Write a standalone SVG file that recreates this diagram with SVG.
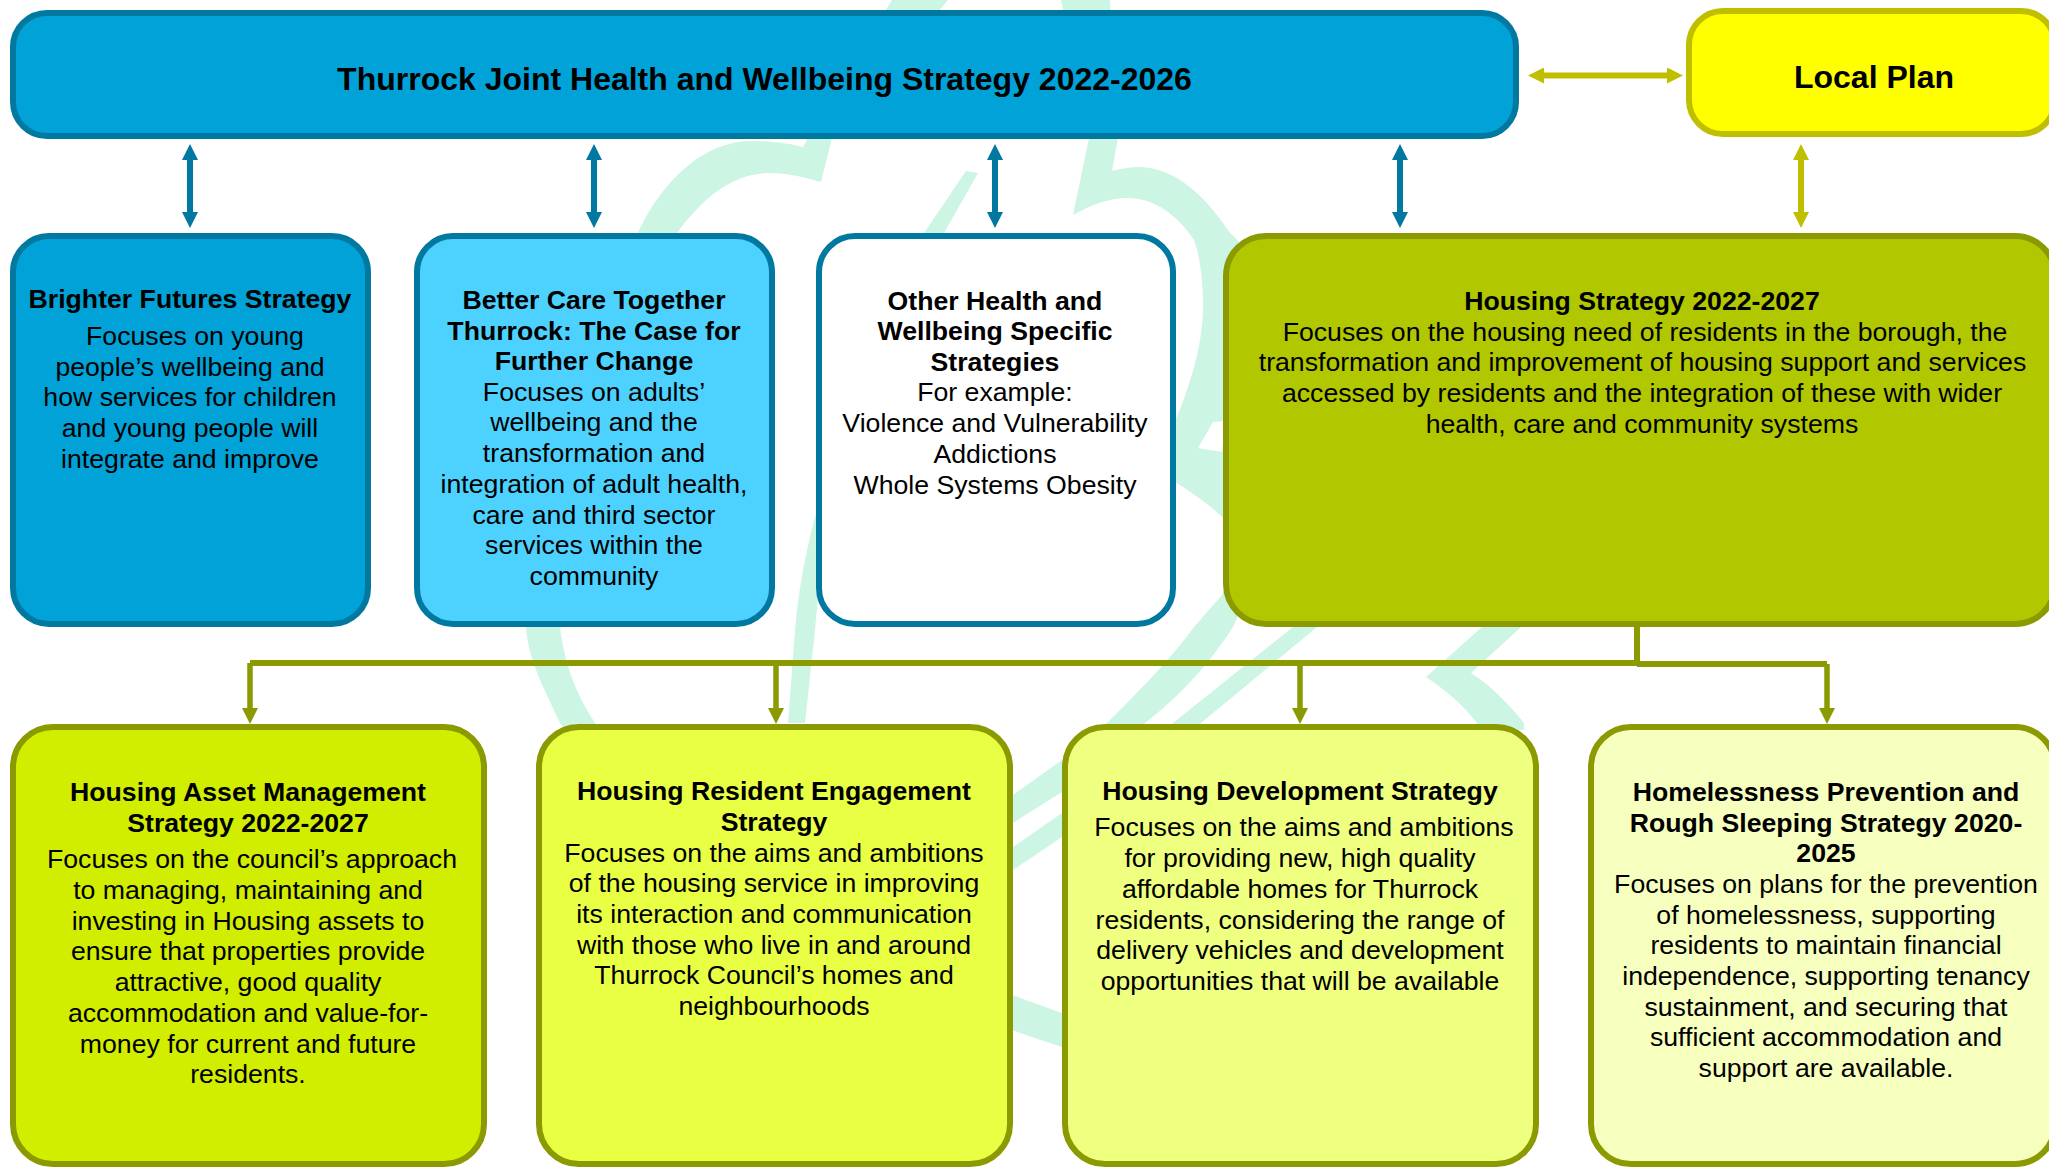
<svg xmlns="http://www.w3.org/2000/svg" width="2049" height="1168" viewBox="0 0 2049 1168">
<style>
.box{stroke-width:6}
.blue{stroke:#00789f}
.olive{stroke:#8a9a00}
text{font-family:"Liberation Sans",Arial,sans-serif;font-size:26.67px;fill:#000;text-anchor:middle}
.h{font-weight:bold}
.t{font-weight:bold;font-size:32px}
.wm{fill:#ccf5e3;fill-rule:evenodd}
.ab{stroke:#00789f;stroke-width:6;fill:none}
.ay{stroke:#bfbf00;stroke-width:6;fill:none}
.ao{stroke:#8a9a00;stroke-width:5.5;fill:none}
.tr{stroke:#8a9a00;stroke-width:6;fill:none}
</style>
<defs>
<marker id="mb" markerUnits="userSpaceOnUse" markerWidth="16" markerHeight="16" viewBox="0 0 16 16" refX="4" refY="8" orient="auto-start-reverse"><path d="M0 0L16 8L0 16Z" fill="#00789f"/></marker>
<marker id="my" markerUnits="userSpaceOnUse" markerWidth="16" markerHeight="16" viewBox="0 0 16 16" refX="4" refY="8" orient="auto-start-reverse"><path d="M0 0L16 8L0 16Z" fill="#bfbf00"/></marker>
<marker id="mo" markerUnits="userSpaceOnUse" markerWidth="16" markerHeight="16" viewBox="0 0 16 16" refX="4" refY="8" orient="auto"><path d="M0 0L16 8L0 16Z" fill="#8a9a00"/></marker>
</defs>
<g id="watermark">
<path class="wm" d="M892 0L948 0L832 138L821 182C800 176 785 173 770 173C735 173 705 195 677 233C620 330 555 450 560 627C565 670 580 700 595 723C700 880 880 990 1062 1047L1100 1060L1100 1030L1062 1013C880 950 640 830 560 723C545 690 528 660 526 627C520 450 590 320 638 233C655 195 695 141 752 141C770 141 790 143 803 147L808 138Z"/>
<path class="wm" d="M1061 0L1110 0L1118 138L1112 171C1120 169 1130 167 1140 167C1175 168 1205 195 1230 233L1300 300L1290 560L1222 517C1210 505 1195 495 1177 483L1160 475L1160 440L1177 417C1190 385 1205 340 1203 297C1202 270 1198 250 1194 240C1182 222 1160 198 1127 198C1110 198 1090 205 1073 215L1089 138ZM1213 422L1198 448L1222 452L1225 421Z"/>
<path class="wm" d="M1260 500L1290 500L1233 627C1205 670 1175 700 1145 723L1062 792L1013 823L980 845L970 815L1013 795L1062 760L1107 723C1140 690 1170 660 1194 627L1222 595Z"/>
<path class="wm" d="M1350 570L1375 570L1317 627L1201 723L1062 837L1013 870L985 890L975 865L1013 847L1062 813L1173 723L1293 627Z"/>
<path class="wm" d="M1500 600L1540 600L1521 627L1471 673C1490 685 1510 705 1524 723L1524 730L1482 730C1465 705 1445 690 1426 677L1482 627Z"/>
<path class="wm" d="M966 171L978 173L944 233C880 370 825 500 815 630L805 723L788 723L795 630C800 570 815 510 830 470L924 233Z"/>
</g>
<g id="connectors">
<path class="ab" d="M190 156V216" marker-start="url(#mb)" marker-end="url(#mb)"/>
<path class="ab" d="M594 156V216" marker-start="url(#mb)" marker-end="url(#mb)"/>
<path class="ab" d="M995 156V216" marker-start="url(#mb)" marker-end="url(#mb)"/>
<path class="ab" d="M1400 156V216" marker-start="url(#mb)" marker-end="url(#mb)"/>
<path class="ay" d="M1801 156V216" marker-start="url(#my)" marker-end="url(#my)"/>
<path class="ay" d="M1540 75.5H1671" marker-start="url(#my)" marker-end="url(#my)"/>
<path class="tr" d="M1637 626V663H250"/>
<path class="tr" d="M1637 664H1827"/>
<path class="ao" d="M250 663V712" marker-end="url(#mo)"/>
<path class="ao" d="M776 663V712" marker-end="url(#mo)"/>
<path class="ao" d="M1300 663V712" marker-end="url(#mo)"/>
<path class="ao" d="M1827 664V712" marker-end="url(#mo)"/>
</g>
<g id="top-strategy"><rect class="box blue" x="13" y="13" width="1503" height="123" rx="34" fill="#00a2d8"/>
<text class="t" x="764.5" y="90">Thurrock Joint Health and Wellbeing Strategy 2022-2026</text></g>
<g id="local-plan"><rect class="box" stroke="#bfbf00" x="1689" y="11" width="366" height="123" rx="34" fill="#ffff00"/>
<text class="t" x="1874" y="88">Local Plan</text></g>
<g id="brighter-futures"><rect class="box blue" x="13" y="236" width="355" height="388" rx="36" fill="#00a2d8"/>
<text class="h" x="190" y="308">Brighter Futures Strategy</text>
<text x="195" y="345">Focuses on young</text><text x="190" y="376">people’s wellbeing and</text><text x="190" y="406">how services for children</text><text x="190" y="437">and young people will</text><text x="190" y="468">integrate and improve</text></g>
<g id="better-care"><rect class="box blue" x="417" y="236" width="355" height="388" rx="36" fill="#4dd2ff"/>
<text class="h" x="594" y="309">Better Care Together</text><text class="h" x="594" y="340">Thurrock: The Case for</text><text class="h" x="594" y="370">Further Change</text>
<text x="594" y="401">Focuses on adults’</text><text x="594" y="431">wellbeing and the</text><text x="594" y="462">transformation and</text><text x="594" y="493">integration of adult health,</text><text x="594" y="524">care and third sector</text><text x="594" y="554">services within the</text><text x="594" y="585">community</text></g>
<g id="other-strategies"><rect class="box blue" x="819" y="236" width="354" height="388" rx="36" fill="#fff"/>
<text class="h" x="995" y="310">Other Health and</text><text class="h" x="995" y="340">Wellbeing Specific</text><text class="h" x="995" y="371">Strategies</text>
<text x="995" y="401">For example:</text><text x="995" y="432">Violence and Vulnerability</text><text x="995" y="463">Addictions</text><text x="995" y="494">Whole Systems Obesity</text></g>
<g id="housing-strategy"><rect class="box olive" x="1226" y="236" width="829" height="388" rx="40" fill="#b1c800"/>
<text class="h" x="1642" y="310">Housing Strategy 2022-2027</text>
<text x="1645" y="341">Focuses on the housing need of residents in the borough, the</text><text x="1642.5" y="371">transformation and improvement of housing support and services</text><text x="1642" y="402">accessed by residents and the integration of these with wider</text><text x="1642" y="433">health, care and community systems</text></g>
<g id="asset-management"><rect class="box olive" x="13" y="727" width="471" height="437" rx="40" fill="#d2ee00"/>
<text class="h" x="248" y="801">Housing Asset Management</text><text class="h" x="248" y="832">Strategy 2022-2027</text>
<text x="252" y="868">Focuses on the council’s approach</text><text x="248" y="899">to managing, maintaining and</text><text x="248" y="930">investing in Housing assets to</text><text x="248" y="960">ensure that properties provide</text><text x="248" y="991">attractive, good quality</text><text x="248" y="1022">accommodation and value-for-</text><text x="248" y="1053">money for current and future</text><text x="248" y="1083">residents.</text></g>
<g id="resident-engagement"><rect class="box olive" x="539" y="727" width="471" height="437" rx="40" fill="#e8ff44"/>
<text class="h" x="774" y="800">Housing Resident Engagement</text><text class="h" x="774" y="831">Strategy</text>
<text x="774" y="862">Focuses on the aims and ambitions</text><text x="774" y="892">of the housing service in improving</text><text x="774" y="923">its interaction and communication</text><text x="774" y="954">with those who live in and around</text><text x="774" y="984">Thurrock Council’s homes and</text><text x="774" y="1015">neighbourhoods</text></g>
<g id="housing-development"><rect class="box olive" x="1065" y="727" width="471" height="437" rx="40" fill="#efff80"/>
<text class="h" x="1300" y="800">Housing Development Strategy</text>
<text x="1304" y="836">Focuses on the aims and ambitions</text><text x="1300" y="867">for providing new, high quality</text><text x="1300" y="898">affordable homes for Thurrock</text><text x="1300" y="929">residents, considering the range of</text><text x="1300" y="959">delivery vehicles and development</text><text x="1300" y="990">opportunities that will be available</text></g>
<g id="homelessness-prevention"><rect class="box olive" x="1591" y="727" width="464" height="437" rx="40" fill="#f7ffbf"/>
<text class="h" x="1826" y="801">Homelessness Prevention and</text><text class="h" x="1826" y="832">Rough Sleeping Strategy 2020-</text><text class="h" x="1826" y="862">2025</text>
<text x="1826" y="893">Focuses on plans for the prevention</text><text x="1826" y="924">of homelessness, supporting</text><text x="1826" y="954">residents to maintain financial</text><text x="1826" y="985">independence, supporting tenancy</text><text x="1826" y="1016">sustainment, and securing that</text><text x="1826" y="1046">sufficient accommodation and</text><text x="1826" y="1077">support are available.</text></g>
</svg>
